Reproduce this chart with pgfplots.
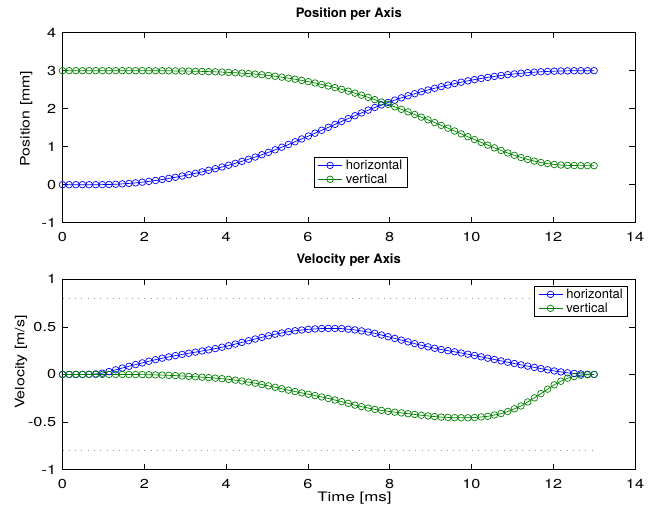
\documentclass[border=0pt]{standalone}
\usepackage{fontspec}
\setmainfont{TeX Gyre Heros}
\usepackage{pgfplots}
\pgfplotsset{compat=1.18}
\usepackage{pgfplotstable}

\definecolor{mblue}{rgb}{0,0,1}
\definecolor{mgreen}{rgb}{0,0.5,0}
\definecolor{dotc}{rgb}{0.55,0.58,0.72}

% t [ms], position [mm], velocity [m/s]
\pgfplotstableread{
t       ph      pv      vh      vv
0       0       3.0000  0       0
0.1625  0       3.0000  0       0
0.325   0       3.0000  0       0
0.4875  0       3.0000  0       0
0.65    0.0002  3.0000  0.0020  0
0.8125  0.0007  3.0000  0.0047  0
0.975   0.0022  3.0000  0.0136  0
1.1375  0.0057  3.0000  0.0301  0
1.3     0.0119  3.0000  0.0485  0
1.4625  0.0212  3.0000  0.0672  0
1.625   0.0334  3.0000  0.0858  -0.0005
1.7875  0.0485  2.9998  0.1036  -0.0012
1.95    0.0665  2.9996  0.1215  -0.0018
2.1125  0.0873  2.9992  0.1385  -0.0031
2.275   0.1107  2.9985  0.1552  -0.0048
2.4375  0.1368  2.9976  0.1711  -0.0067
2.6     0.1652  2.9962  0.1845  -0.0095
2.7625  0.1958  2.9944  0.1979  -0.0123
2.925   0.2284  2.9921  0.2104  -0.0161
3.0875  0.2630  2.9891  0.2226  -0.0202
3.25    0.2995  2.9854  0.2346  -0.0244
3.4125  0.3379  2.9811  0.2464  -0.0288
3.575   0.3782  2.9760  0.2582  -0.0333
3.7375  0.4206  2.9700  0.2720  -0.0388
3.9     0.4652  2.9632  0.2863  -0.0445
4.0625  0.5122  2.9553  0.3017  -0.0513
4.225   0.5618  2.9461  0.3192  -0.0598
4.3875  0.6141  2.9356  0.3367  -0.0683
4.55    0.6694  2.9233  0.3545  -0.0803
4.7125  0.7274  2.9091  0.3724  -0.0924
4.875   0.7883  2.8928  0.3897  -0.1058
5.0375  0.8519  2.8742  0.4063  -0.1204
5.2     0.9181  2.8532  0.4230  -0.1350
5.3625  0.9868  2.8297  0.4360  -0.1500
5.525   1.0575  2.8038  0.4490  -0.1651
5.6875  1.1300  2.7754  0.4592  -0.1797
5.85    1.2040  2.7446  0.4669  -0.1939
6.0125  1.2792  2.7115  0.4743  -0.2081
6.175   1.3553  2.6761  0.4784  -0.2223
6.3375  1.4320  2.6383  0.4824  -0.2365
6.5     1.5092  2.5981  0.4838  -0.2523
6.6625  1.5865  2.5552  0.4833  -0.2689
6.825   1.6636  2.5095  0.4819  -0.2858
6.9875  1.7400  2.4609  0.4750  -0.3041
7.15    1.8154  2.4094  0.4681  -0.3224
7.3125  1.8893  2.3550  0.4576  -0.3384
7.475   1.9615  2.2980  0.4454  -0.3534
7.6375  2.0315  2.2387  0.4320  -0.3673
7.8     2.0992  2.1774  0.4145  -0.3775
7.9625  2.1640  2.1144  0.3970  -0.3877
8.125   2.2260  2.0498  0.3789  -0.3963
8.2875  2.2851  1.9839  0.3607  -0.4044
8.45    2.3412  1.9166  0.3424  -0.4125
8.6125  2.3945  1.8481  0.3241  -0.4206
8.775   2.4448  1.7781  0.3058  -0.4288
8.9375  2.4924  1.7070  0.2903  -0.4358
9.1     2.5376  1.6346  0.2753  -0.4428
9.2625  2.5805  1.5613  0.2615  -0.4483
9.425   2.6213  1.4872  0.2497  -0.4515
9.5875  2.6603  1.4126  0.2379  -0.4548
9.75    2.6973  1.3376  0.2254  -0.4554
9.9125  2.7323  1.2626  0.2128  -0.4558
10.075  2.7652  1.1878  0.1994  -0.4530
10.2375 2.7959  1.1138  0.1852  -0.4465
10.4    2.8244  1.0408  0.1710  -0.4400
10.5625 2.8506  0.9695  0.1568  -0.4258
10.725  2.8745  0.9006  0.1426  -0.4116
10.8875 2.8962  0.8346  0.1286  -0.3897
11.05   2.9156  0.7728  0.1148  -0.3613
11.2125 2.9329  0.7157  0.1010  -0.3317
11.375  2.9479  0.6646  0.0876  -0.2891
11.5375 2.9608  0.6205  0.0742  -0.2464
11.7    2.9717  0.5837  0.0613  -0.2013
11.8625 2.9805  0.5544  0.0487  -0.1545
12.025  2.9873  0.5327  0.0365  -0.1092
12.1875 2.9923  0.5178  0.0268  -0.0713
12.35   2.9958  0.5087  0.0170  -0.0395
12.5125 2.9980  0.5036  0.0106  -0.0216
12.675  2.9993  0.5012  0.0058  -0.0086
12.8375 2.9999  0.5002  0.0016  -0.0024
13      3.0000  0.5000  0       0
}\motion

\pgfplotsset{
  mstyle/.style={
    scale only axis, width=572.5pt,
    xmin=0, xmax=14, xtick={0,2,...,14},
    tick align=inside, major tick length=5.7pt,
    axis line style={line width=0.8pt},
    every tick/.style={black, line width=0.6pt},
    tick label style={font=\fontsize{13}{15}\selectfont, xscale=1.25},
    /pgf/number format/assume math mode=true,
    xticklabel style={anchor=base, yshift=-18.7pt},
    yticklabel style={anchor=east, xshift=-1.6pt},
    label style={font=\fontsize{13}{15}\selectfont},
    title style={font=\bfseries\fontsize{13}{15}\selectfont, anchor=base},
    legend cell align=left,
    legend style={font=\fontsize{13}{15}\selectfont, draw=black, line width=0.8pt,
      inner xsep=3.5pt, inner ysep=1pt, nodes={inner sep=1.5pt},
      column sep=2pt},
    legend image code/.code={\draw[mark repeat=2,mark phase=2]
      plot coordinates {(0pt,0pt) (12pt,0pt) (24pt,0pt)};},
  },
  hplot/.style={mblue, mark=o, mark size=3.3pt, line width=0.7pt},
  vplot/.style={mgreen, mark=o, mark size=3.3pt, line width=0.7pt},
}

\begin{document}
\begin{tikzpicture}
\path[use as bounding box] (0pt,0pt) rectangle (656pt,505pt);

\begin{axis}[mstyle, at={(62.5pt,282.3pt)}, anchor=south west,
    height=190pt, ymin=-1, ymax=4, ytick={-1,0,...,4},
    ylabel={Position [mm]},
    ylabel style={at={(axis description cs:-0.0576,0.548)}, anchor=base, xscale=1.22},
    title={Position per Axis},
    title style={at={(axis description cs:0.5,1.05)}},
    legend style={at={(0.439,0.346)}, anchor=north west}]
  \addplot[hplot] table[x=t, y=ph] {\motion};
  \addplot[vplot] table[x=t, y=pv] {\motion};
  \legend{horizontal, vertical}
\end{axis}

\begin{axis}[mstyle, at={(62.5pt,35.4pt)}, anchor=south west,
    height=190.3pt, ymin=-1, ymax=1, ytick={-1,-0.5,0,0.5,1},
    ylabel={Velocity [m/s]},
    ylabel style={at={(axis description cs:-0.0664,0.565)}, anchor=base, xscale=1.22},
    xlabel={Time [ms]},
    xlabel style={at={(axis description cs:0.51,-0.170)}, anchor=base, xscale=1.3},
    title={Velocity per Axis},
    title style={at={(axis description cs:0.5,1.049)}},
    legend style={at={(0.988,0.965)}, anchor=north east}]
  \addplot[dotc, line width=0.6pt, dash pattern=on 0.8pt off 5.5pt, forget plot]
    coordinates {(0,0.8) (13,0.8)};
  \addplot[dotc, line width=0.6pt, dash pattern=on 0.8pt off 5.5pt, forget plot]
    coordinates {(0,-0.8) (13,-0.8)};
  \addplot[hplot] table[x=t, y=vh] {\motion};
  \addplot[vplot] table[x=t, y=vv] {\motion};
  \legend{horizontal, vertical}
\end{axis}
\end{tikzpicture}
\end{document}
